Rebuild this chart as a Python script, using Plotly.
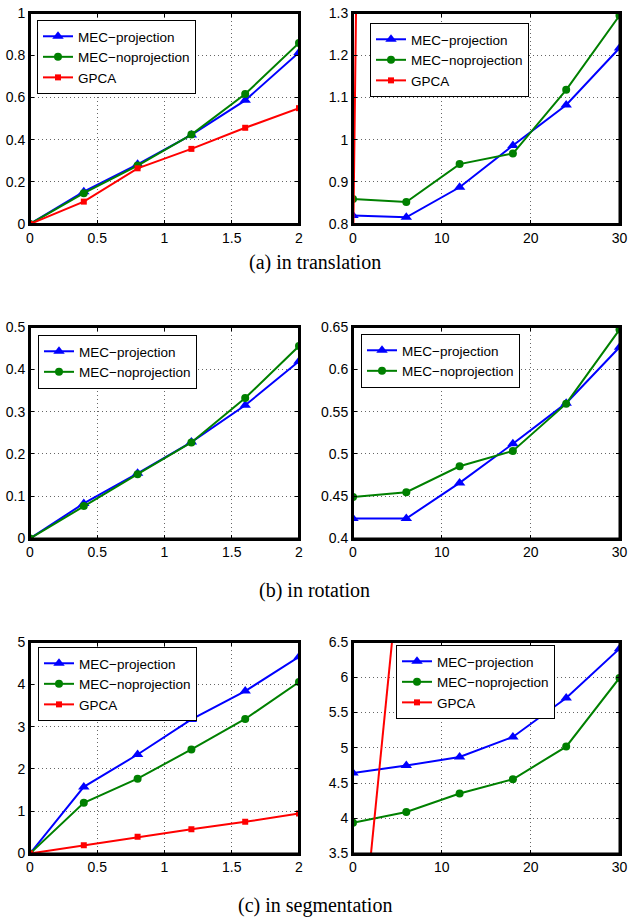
import plotly.graph_objects as go

# ---------------- data ----------------
x_noise = [0, 0.4, 0.8, 1.2, 1.6, 2]
x_out = [0, 6, 12, 18, 24, 30]

# (a) translation
a_left_proj = [0, 0.153, 0.283, 0.422, 0.586, 0.813]
a_left_noproj = [0, 0.146, 0.277, 0.424, 0.616, 0.858]
a_left_gpca = [0, 0.106, 0.264, 0.356, 0.456, 0.549]
a_right_proj = [0.820, 0.816, 0.887, 0.986, 1.082, 1.217]
a_right_noproj = [0.859, 0.852, 0.942, 0.967, 1.118, 1.294]
a_right_gpca = [0.72, 11.0, 22.0, 33.0, 44.0, 55.0]

# (b) rotation
b_left_proj = [0, 0.083, 0.154, 0.228, 0.315, 0.419]
b_left_noproj = [0, 0.077, 0.152, 0.227, 0.332, 0.455]
b_right_proj = [0.4236, 0.4236, 0.4657, 0.512, 0.560, 0.626]
b_right_noproj = [0.449, 0.4547, 0.4854, 0.5035, 0.5594, 0.6469]

# (c) segmentation
c_left_proj = [0, 1.575, 2.34, 3.17, 3.84, 4.65]
c_left_noproj = [0, 1.197, 1.77, 2.46, 3.18, 4.055]
c_left_gpca = [0, 0.197, 0.394, 0.575, 0.748, 0.945]
c_right_proj = [4.643, 4.747, 4.87, 5.153, 5.706, 6.405]
c_right_noproj = [3.935, 4.09, 4.35, 4.553, 5.016, 5.99]
c_right_gpca = [0.93, 8.56, 16.2, 23.8, 31.4, 39.0]

# ticks
xt_noise = [0, 0.5, 1, 1.5, 2]
xt_noise_txt = ["0", "0.5", "1", "1.5", "2"]
xt_out = [0, 10, 20, 30]
xt_out_txt = ["0", "10", "20", "30"]
yt_a_left = [0, 0.2, 0.4, 0.6, 0.8, 1]
yt_a_left_txt = ["0", "0.2", "0.4", "0.6", "0.8", "1"]
yt_a_right = [0.8, 0.9, 1, 1.1, 1.2, 1.3]
yt_a_right_txt = ["0.8", "0.9", "1", "1.1", "1.2", "1.3"]
yt_b_left = [0, 0.1, 0.2, 0.3, 0.4, 0.5]
yt_b_left_txt = ["0", "0.1", "0.2", "0.3", "0.4", "0.5"]
yt_b_right = [0.4, 0.45, 0.5, 0.55, 0.6, 0.65]
yt_b_right_txt = ["0.4", "0.45", "0.5", "0.55", "0.6", "0.65"]
yt_c_left = [0, 1, 2, 3, 4, 5]
yt_c_left_txt = ["0", "1", "2", "3", "4", "5"]
yt_c_right = [3.5, 4, 4.5, 5, 5.5, 6, 6.5]
yt_c_right_txt = ["3.5", "4", "4.5", "5", "5.5", "6", "6.5"]

names = ["MEC\u2212projection", "MEC\u2212noprojection", "GPCA"]
captions = ["(a) in translation", "(b) in rotation", "(c) in segmentation"]

# ---------------- styles ----------------
BLUE = "#0000FF"
GREEN = "#008000"
RED = "#FF0000"
SANS = "Liberation Sans, Arial, Helvetica, sans-serif"
SERIF = "Liberation Serif, Times New Roman, serif"

W, H = 629, 919
xdom_left = [30 / W, 299 / W]
xdom_right = [353 / W, 619.5 / W]
ydoms = [
    [1 - 224 / H, 1 - 13 / H],
    [1 - 538.5 / H, 1 - 327 / H],
    [1 - 853.5 / H, 1 - 642 / H],
]

fig = go.Figure()

panels = [
    (1, x_noise, [a_left_proj, a_left_noproj, a_left_gpca], "legend",
     (xt_noise, xt_noise_txt), (yt_a_left, yt_a_left_txt), [0, 1], [0, 2]),
    (2, x_out, [a_right_proj, a_right_noproj, a_right_gpca], "legend2",
     (xt_out, xt_out_txt), (yt_a_right, yt_a_right_txt), [0.8, 1.3], [0, 30]),
    (3, x_noise, [b_left_proj, b_left_noproj], "legend3",
     (xt_noise, xt_noise_txt), (yt_b_left, yt_b_left_txt), [0, 0.5], [0, 2]),
    (4, x_out, [b_right_proj, b_right_noproj], "legend4",
     (xt_out, xt_out_txt), (yt_b_right, yt_b_right_txt), [0.4, 0.65], [0, 30]),
    (5, x_noise, [c_left_proj, c_left_noproj, c_left_gpca], "legend5",
     (xt_noise, xt_noise_txt), (yt_c_left, yt_c_left_txt), [0, 5], [0, 2]),
    (6, x_out, [c_right_proj, c_right_noproj, c_right_gpca], "legend6",
     (xt_out, xt_out_txt), (yt_c_right, yt_c_right_txt), [3.5, 6.5], [0, 30]),
]

colors = [BLUE, GREEN, RED]
symbols = ["triangle-up", "circle", "square"]
msizes = [10, 8, 6]

legend_pos = {
    "legend": (37 / W, 1 - 20 / H),
    "legend2": (370 / W, 1 - 23 / H),
    "legend3": (38 / W, 1 - 335 / H),
    "legend4": (361 / W, 1 - 334 / H),
    "legend5": (38 / W, 1 - 647 / H),
    "legend6": (396 / W, 1 - 645 / H),
}

layout = dict(
    template="none",
    width=W, height=H,
    margin=dict(l=0, r=0, t=0, b=0, pad=0),
    paper_bgcolor="white", plot_bgcolor="white",
    font=dict(family=SANS, size=14, color="black"),
    showlegend=True,
)

shapes = []
for idx, xs, series, leg, xt, yt, yr, xr in panels:
    sfx = "" if idx == 1 else str(idx)
    for k, ys in enumerate(series):
        fig.add_trace(go.Scatter(
            x=xs, y=ys, name=names[k], mode="lines+markers",
            line=dict(color=colors[k], width=2),
            marker=dict(symbol=symbols[k], size=msizes[k], color=colors[k],
                        line=dict(width=0)),
            xaxis="x" + sfx, yaxis="y" + sfx, legend=leg,
        ))
    row = (idx - 1) // 2
    col = (idx - 1) % 2
    common = dict(
        showline=True, linecolor="black", linewidth=2, mirror="ticks",
        ticks="inside", ticklen=4, tickwidth=1, tickcolor="black",
        showgrid=True, gridcolor="#666666", griddash="1px,3px", gridwidth=1,
        zeroline=False, automargin=False, layer="above traces",
        tickfont=dict(family=SANS, size=14, color="black"),
    )
    layout["xaxis" + sfx] = dict(
        common, domain=xdom_left if col == 0 else xdom_right,
        range=xr, tickvals=xt[0], ticktext=xt[1],
        anchor="y" + sfx, ticklabelstandoff=0,
    )
    layout["yaxis" + sfx] = dict(
        common, domain=ydoms[row], range=yr,
        tickvals=yt[0], ticktext=yt[1], anchor="x" + sfx,
        ticklabelstandoff=0,
    )
    # black frame around each axes box (MATLAB style)
    shapes.append(dict(
        type="rect", xref="x" + sfx + " domain", yref="y" + sfx + " domain",
        x0=0, x1=1, y0=0, y1=1, layer="above",
        line=dict(color="black", width=2), fillcolor="rgba(0,0,0,0)",
    ))
    lx, ly = legend_pos[leg]
    layout[leg] = dict(
        x=lx, y=ly, xanchor="left", yanchor="top",
        bgcolor="white", bordercolor="black", borderwidth=1,
        font=dict(family=SANS, size=13.5, color="black"),
        tracegroupgap=0, itemwidth=30,
    )

layout["shapes"] = shapes
fig.update_layout(**layout)

cap_y = [262, 590, 905]
for txt, yy in zip(captions, cap_y):
    fig.add_annotation(
        text=txt, x=315 / W, y=1 - yy / H, xref="paper", yref="paper",
        showarrow=False, xanchor="center", yanchor="middle",
        font=dict(family=SERIF, size=20, color="black"),
    )

fig.write_html(
    "out.html",
    config={"displayModeBar": False},
    post_script="document.body.style.margin='0';document.body.style.padding='0';",
)
